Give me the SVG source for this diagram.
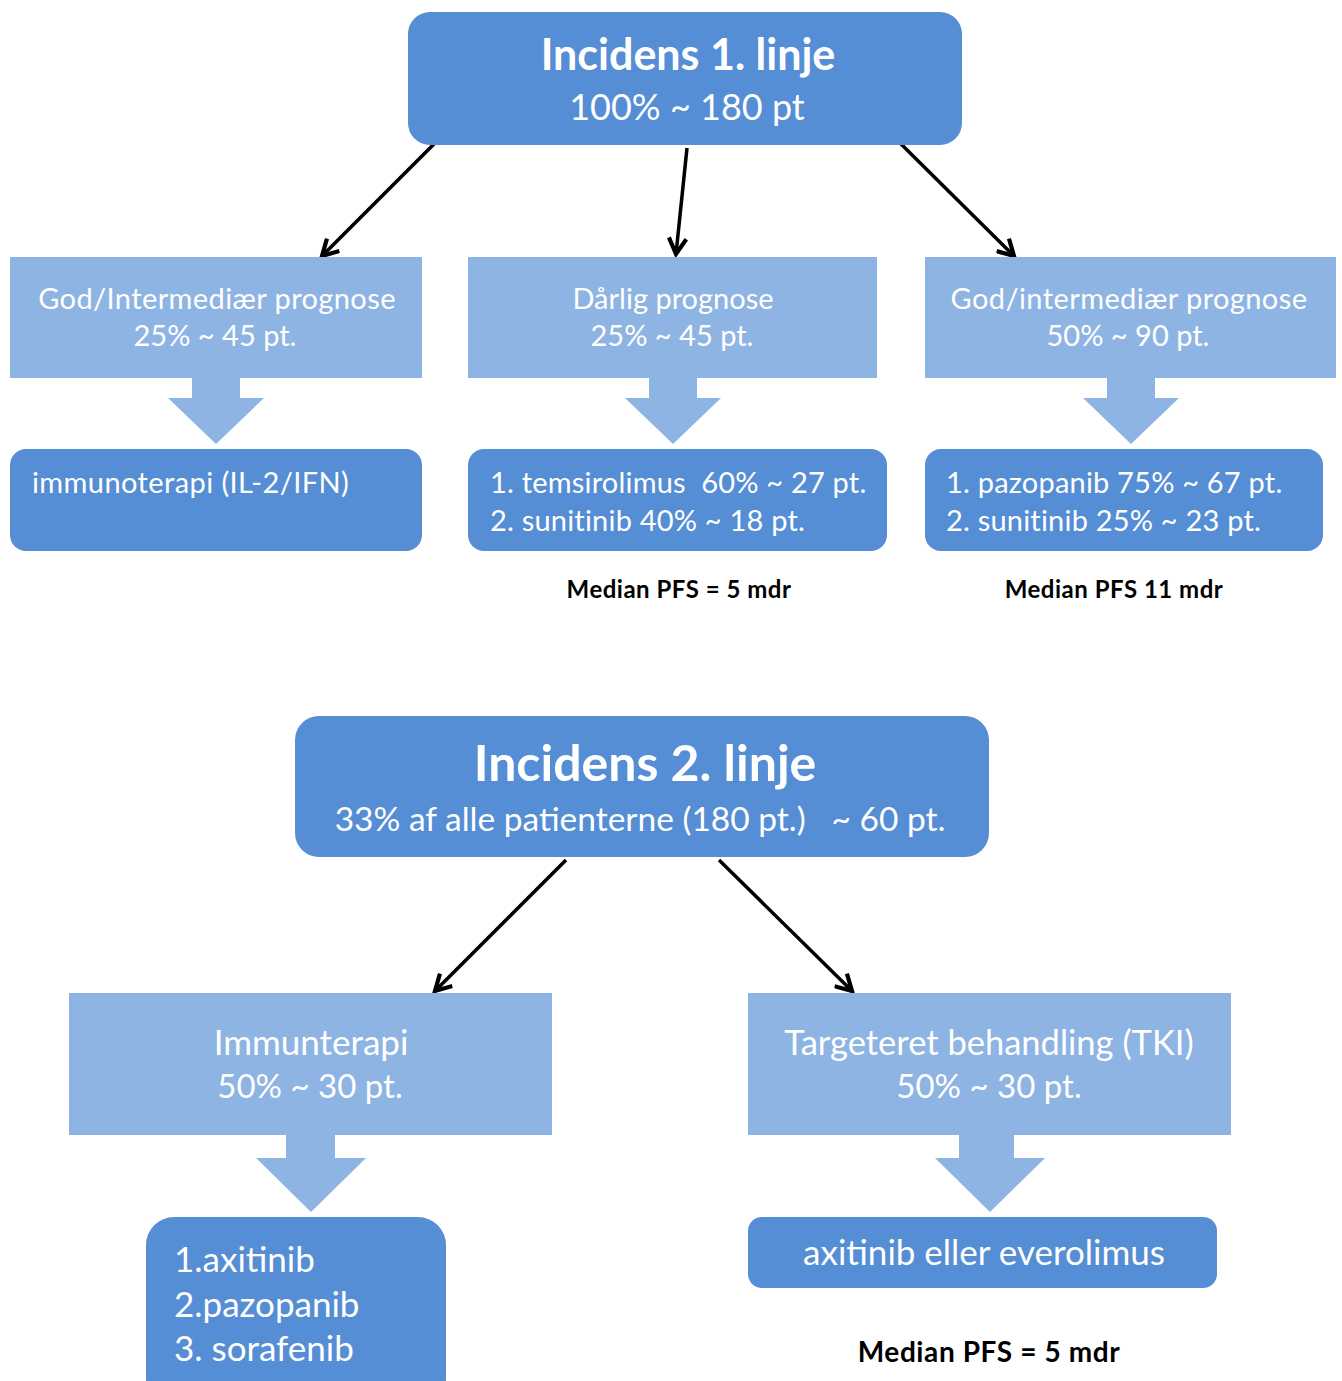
<svg xmlns="http://www.w3.org/2000/svg" width="1342" height="1381" viewBox="0 0 1342 1381">
<style>
.dark{fill:#558ED5;}
.light{fill:#8EB4E3;}
.t{font-family:Lato,"Open Sans","Liberation Sans",sans-serif;fill:#fff;white-space:pre;}
.c{text-anchor:middle;}
.b{font-weight:bold;}
.m{font-family:Lato,"Liberation Sans",sans-serif;font-weight:bold;fill:#000;text-anchor:middle;}
.con{stroke:#000;stroke-width:3.5;fill:none;marker-end:url(#ah);}
</style>
<defs>
<marker id="ah" viewBox="0 0 12 12" refX="10" refY="6" markerWidth="6" markerHeight="6" markerUnits="strokeWidth" orient="auto">
<path d="M1,1 L10,6 L1,11" fill="none" stroke="#000" stroke-width="2.4" stroke-linejoin="miter"/>
</marker>
</defs>
<rect width="1342" height="1381" fill="#fff"/>

<g id="connectors">
<line class="con" x1="435" y1="143" x2="322" y2="256"/>
<line class="con" x1="687" y1="148" x2="676" y2="254"/>
<line class="con" x1="900" y1="143" x2="1014" y2="256"/>
<line class="con" x1="566" y1="860" x2="435" y2="991"/>
<line class="con" x1="719" y1="860" x2="852" y2="991"/>
</g>

<g id="n1">
<rect class="dark" x="408" y="12" width="554" height="133" rx="22"/>
<text class="t c b" x="688" y="70" font-size="43">Incidens 1. linje</text>
<text class="t c" x="687" y="120" font-size="36">100% ~ 180 pt</text>
</g>

<g id="n2">
<rect class="light" x="10" y="257" width="412" height="121"/>
<text class="t c" x="217" y="309" font-size="29" letter-spacing="0.4">God/Intermediær prognose</text>
<text class="t c" x="215" y="346" font-size="29">25% ~ 45 pt.</text>
</g>
<g id="n3">
<rect class="light" x="468" y="257" width="409" height="121"/>
<text class="t c" x="673" y="309" font-size="29">Dårlig prognose</text>
<text class="t c" x="672" y="346" font-size="29">25% ~ 45 pt.</text>
</g>
<g id="n4">
<rect class="light" x="925" y="257" width="411" height="121"/>
<text class="t c" x="1129" y="309" font-size="29" letter-spacing="0.4">God/intermediær prognose</text>
<text class="t c" x="1128" y="346" font-size="29">50% ~ 90 pt.</text>
</g>

<g id="ba1"><path class="light" d="M192,378 H240 V398 H264 L216,444 L168,398 H192 Z"/></g>
<g id="ba2"><path class="light" d="M649,378 H697 V398 H721 L673,444 L625,398 H649 Z"/></g>
<g id="ba3"><path class="light" d="M1107,378 H1155 V398 H1179 L1131,444 L1083,398 H1107 Z"/></g>

<g id="n5">
<rect class="dark" x="10" y="449" width="412" height="102" rx="16"/>
<text class="t" x="32" y="493" font-size="29" letter-spacing="0.4">immunoterapi (IL-2/IFN)</text>
</g>
<g id="n6">
<rect class="dark" x="468" y="449" width="419" height="102" rx="16"/>
<text class="t" x="490" y="493" font-size="29" letter-spacing="0.2">1. temsirolimus  60% ~ 27 pt.</text>
<text class="t" x="490" y="531" font-size="29" letter-spacing="0.2">2. sunitinib 40% ~ 18 pt.</text>
</g>
<g id="n7">
<rect class="dark" x="925" y="449" width="398" height="102" rx="16"/>
<text class="t" x="946" y="493" font-size="29" letter-spacing="0.2">1. pazopanib 75% ~ 67 pt.</text>
<text class="t" x="946" y="531" font-size="29" letter-spacing="0.2">2. sunitinib 25% ~ 23 pt.</text>
</g>

<g id="l1"><text class="m" x="679" y="598" font-size="24" letter-spacing="0.5">Median PFS = 5 mdr</text></g>
<g id="l2"><text class="m" x="1114" y="598" font-size="24" letter-spacing="0.5">Median PFS 11 mdr</text></g>

<g id="n8">
<rect class="dark" x="295" y="716" width="694" height="141" rx="24"/>
<text class="t c b" x="645" y="781" font-size="50">Incidens 2. linje</text>
<text class="t c" x="640" y="831" font-size="33.5">33% af alle patienterne (180 pt.)   ~ 60 pt.</text>
</g>

<g id="n9">
<rect class="light" x="69" y="993" width="483" height="142"/>
<text class="t c" x="311" y="1055" font-size="35">Immunterapi</text>
<text class="t c" x="310" y="1098" font-size="33">50% ~ 30 pt.</text>
</g>
<g id="n10">
<rect class="light" x="748" y="993" width="483" height="142"/>
<text class="t c" x="989" y="1055" font-size="34.5">Targeteret behandling (TKI)</text>
<text class="t c" x="989" y="1098" font-size="33">50% ~ 30 pt.</text>
</g>

<g id="ba4"><path class="light" d="M286,1135 H335 V1158 H366 L311,1212 L256,1158 H286 Z"/></g>
<g id="ba5"><path class="light" d="M959,1135 H1014 V1158 H1045 L990,1212 L935,1158 H959 Z"/></g>

<g id="n11">
<rect class="dark" x="146" y="1217" width="300" height="190" rx="28"/>
<text class="t" x="174" y="1272" font-size="35">1.axitinib</text>
<text class="t" x="174" y="1317" font-size="35">2.pazopanib</text>
<text class="t" x="174" y="1361" font-size="35">3. sorafenib</text>
</g>
<g id="n12">
<rect class="dark" x="748" y="1217" width="469" height="71" rx="14"/>
<text class="t c" x="984" y="1265" font-size="35">axitinib eller everolimus</text>
</g>
<g id="l3"><text class="m" x="989" y="1362" font-size="28" letter-spacing="0.6">Median PFS = 5 mdr</text></g>
</svg>
